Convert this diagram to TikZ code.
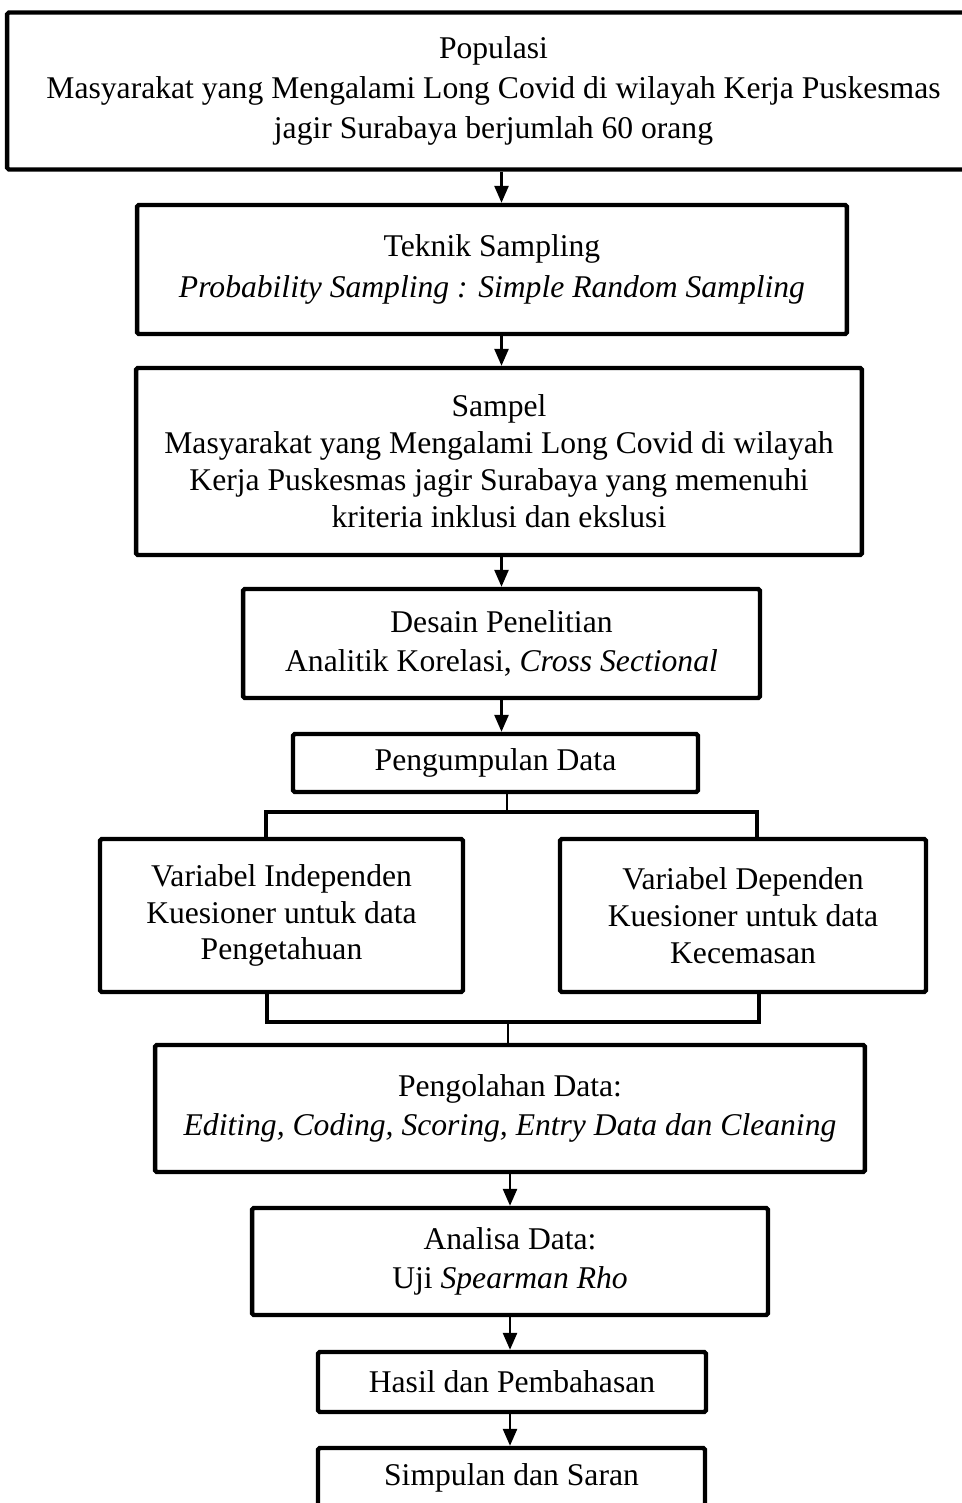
\documentclass[tikz,border=0pt]{standalone}
\usepackage{fontspec}
\setmainfont{Liberation Serif}
\usetikzlibrary{arrows.meta}

\begin{document}
\begin{tikzpicture}[
    x=0.02cm, y=-0.02cm,
    box/.style={rectangle, draw, line width=2.5pt, rounded corners=1pt, align=center,
                inner sep=0pt, font=\fontsize{18}{21}\selectfont},
    arr/.style={-{Triangle[length=0.34cm, width=0.28cm]}, line width=1.5pt},
    bar/.style={line width=2.3pt},
    stub/.style={line width=1.1pt}
]
    \useasboundingbox (0,0) rectangle (961,1503);

    % Blocks
    \node[box, minimum width=19.46cm, minimum height=3.14cm] (popul) at (493.5,91)
        {Populasi\\[2pt] Masyarakat yang Mengalami Long Covid di wilayah Kerja Puskesmas\\[2pt] jagir Surabaya berjumlah 60 orang};
    \node[box, minimum width=14.2cm, minimum height=2.58cm] (teknik) at (492,269.5)
        {Teknik Sampling\\[2pt] \textit{Probability Sampling : Simple Random Sampling}};
    \node[box, minimum width=14.52cm, minimum height=3.74cm] (sampel) at (499,461.5)
        {Sampel\\ Masyarakat yang Mengalami Long Covid di wilayah\\ Kerja Puskesmas jagir Surabaya yang memenuhi\\ kriteria inklusi dan ekslusi};
    \node[box, minimum width=10.34cm, minimum height=2.18cm] (desain) at (501.5,643.5)
        {Desain Penelitian\\[1pt] Analitik Korelasi, \textit{Cross Sectional}};
    \node[box, minimum width=8.1cm, minimum height=1.16cm] (kumpul) at (495.5,763)
        {Pengumpulan Data};
    \node[box, minimum width=7.26cm, minimum height=3.06cm] (indep) at (281.5,915.5)
        {Variabel Independen\\ Kuesioner untuk data\\ Pengetahuan};
    \node[box, minimum width=7.32cm, minimum height=3.06cm] (dep) at (743,915.5)
        {Variabel Dependen\\ Kuesioner untuk data\\ Kecemasan};
    \node[box, minimum width=14.2cm, minimum height=2.54cm] (olah) at (510,1108.5)
        {Pengolahan Data:\\[1pt] \textit{Editing, Coding, Scoring, Entry Data dan Cleaning}};
    \node[box, minimum width=10.32cm, minimum height=2.14cm] (analisa) at (510,1261.5)
        {Analisa Data:\\[1pt] Uji \textit{Spearman Rho}};
    \node[box, minimum width=7.76cm, minimum height=1.2cm] (hasil) at (512,1382)
        {Hasil dan Pembahasan};
    \node[box, minimum width=7.74cm, minimum height=1.2cm] (simpul) at (511.5,1478)
        {Simpulan dan Saran};

    % Forward path
    \draw[arr] (popul.south -| desain) -- (teknik.north -| desain);
    \draw[arr] (teknik.south -| desain) -- (sampel.north -| desain);
    \draw[arr] (sampel.south -| desain) -- (desain.north);
    \draw[arr] (desain.south) -- (kumpul.north -| desain);

    % Split to both variables
    \coordinate (splitT) at (507,812);
    \coordinate (tl) at (266,812);
    \coordinate (tr) at (757,812);
    \draw[stub] (kumpul.south -| splitT) -- (splitT);
    \draw[bar] (indep.north -| tl) -- (tl) -- (tr) -- (dep.north -| tr);

    % Join from both variables
    \coordinate (joinB) at (508,1022);
    \coordinate (bl) at (267,1022);
    \coordinate (br) at (759,1022);
    \draw[bar] (indep.south -| bl) -- (bl) -- (br) -- (dep.south -| br);
    \draw[stub] (joinB) -- (olah.north -| joinB);

    % Lower path
    \draw[arr] (olah.south) -- (analisa.north);
    \draw[arr] (analisa.south) -- (hasil.north -| analisa);
    \draw[arr] (hasil.south -| analisa) -- (simpul.north -| analisa);
\end{tikzpicture}
\end{document}
